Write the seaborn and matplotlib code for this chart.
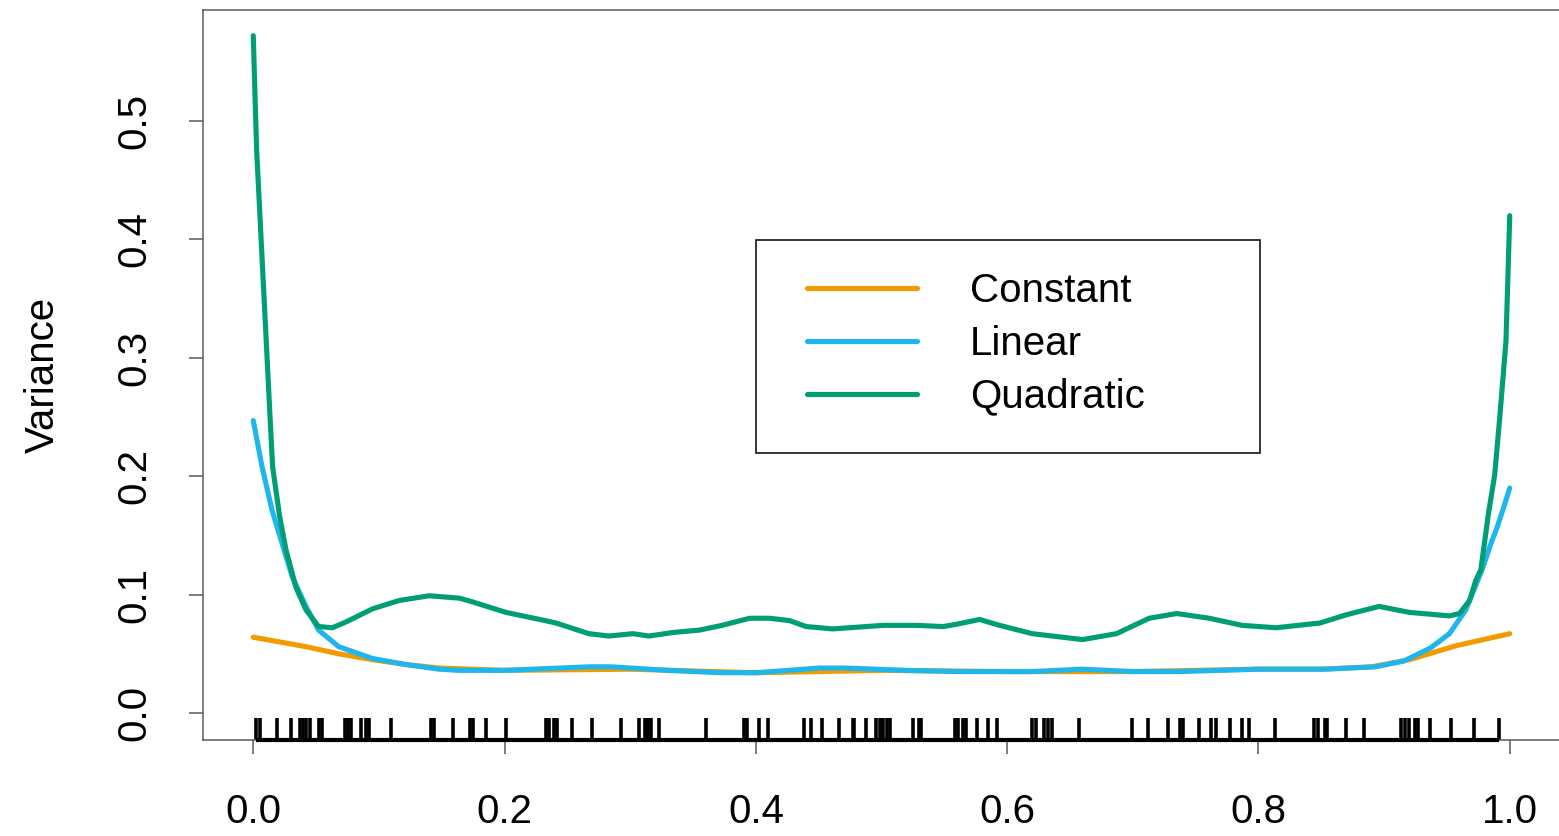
import numpy as np
import pandas as pd
import matplotlib
matplotlib.use("Agg")
import matplotlib.pyplot as plt
import seaborn as sns
from matplotlib.patches import Rectangle

sns.set_theme(style="white")
plt.rcParams["font.family"] = ["Liberation Sans", "DejaVu Sans"]
plt.rcParams["text.color"] = "black"
plt.rcParams["axes.labelcolor"] = "black"

# ---- variance curves -------------------------------------------------------
const_x = [0.0, 0.042, 0.068, 0.095, 0.121, 0.148, 0.2, 0.3, 0.4, 0.5, 0.6,
           0.7, 0.8, 0.85, 0.89, 0.92, 0.958, 1.0]
const_y = [0.064, 0.056, 0.050, 0.045, 0.041, 0.038, 0.036, 0.037, 0.034,
           0.036, 0.035, 0.035, 0.037, 0.037, 0.039, 0.045, 0.057, 0.067]

linear_x = [0.0, 0.007, 0.015, 0.023, 0.031, 0.042, 0.052, 0.068, 0.095,
            0.121, 0.148, 0.164, 0.2, 0.267, 0.285, 0.33, 0.373, 0.40, 0.451,
            0.47, 0.52, 0.56, 0.62, 0.66, 0.70, 0.737, 0.799, 0.853, 0.893,
            0.916, 0.937, 0.952, 0.965, 0.978, 0.985, 0.99, 0.995, 1.0]
linear_y = [0.247, 0.208, 0.171, 0.143, 0.115, 0.090, 0.070, 0.056, 0.046,
            0.041, 0.037, 0.036, 0.036, 0.039, 0.039, 0.036, 0.034, 0.034,
            0.038, 0.038, 0.036, 0.035, 0.035, 0.037, 0.035, 0.035, 0.037,
            0.037, 0.039, 0.044, 0.055, 0.067, 0.087, 0.121, 0.143, 0.157,
            0.173, 0.190]

quad_x = [0.0, 0.0027, 0.0127, 0.0154, 0.021, 0.026, 0.034, 0.042, 0.052,
          0.063, 0.074, 0.095, 0.116, 0.140, 0.164, 0.174, 0.201, 0.228,
          0.241, 0.267, 0.283, 0.302, 0.315, 0.334, 0.355, 0.373, 0.395,
          0.411, 0.427, 0.44, 0.451, 0.461, 0.501, 0.528, 0.549, 0.560,
          0.578, 0.594, 0.620, 0.660, 0.687, 0.713, 0.735, 0.761, 0.787,
          0.814, 0.849, 0.870, 0.896, 0.920, 0.952, 0.960, 0.968, 0.973,
          0.977, 0.983, 0.988, 0.992, 0.997, 1.0]
quad_y = [0.572, 0.475, 0.264, 0.208, 0.166, 0.138, 0.106, 0.087, 0.073,
          0.072, 0.077, 0.088, 0.095, 0.099, 0.097, 0.094, 0.085, 0.079,
          0.076, 0.067, 0.065, 0.067, 0.065, 0.068, 0.070, 0.074, 0.080,
          0.080, 0.078, 0.073, 0.072, 0.071, 0.074, 0.074, 0.073, 0.075,
          0.079, 0.074, 0.067, 0.062, 0.067, 0.080, 0.084, 0.080, 0.074,
          0.072, 0.076, 0.083, 0.090, 0.085, 0.082, 0.084, 0.095, 0.112,
          0.121, 0.168, 0.201, 0.249, 0.314, 0.420]

# observed design points (rug)
design_pts = [0.0025, 0.0050, 0.0186, 0.030, 0.0374, 0.0393, 0.042, 0.0454,
              0.0525, 0.0547, 0.0732, 0.0754, 0.078, 0.0857, 0.0897, 0.0924,
              0.1096, 0.1415, 0.1441, 0.1587, 0.1725, 0.1752, 0.1852, 0.2012,
              0.233, 0.2357, 0.2396, 0.2415, 0.2537, 0.2694, 0.2927, 0.3068,
              0.3118, 0.314, 0.3166, 0.3227, 0.3604, 0.3904, 0.3931, 0.4029,
              0.41, 0.4387, 0.444, 0.4528, 0.466, 0.4772, 0.4785, 0.4873,
              0.4958, 0.4985, 0.5015, 0.504, 0.5065, 0.525, 0.5297, 0.5318,
              0.5581, 0.5608, 0.5648, 0.5674, 0.5762, 0.5846, 0.5918, 0.6199,
              0.6226, 0.6292, 0.6324, 0.6359, 0.6571, 0.6993, 0.712, 0.7279,
              0.7372, 0.7399, 0.7526, 0.7619, 0.7665, 0.7776, 0.7872, 0.7925,
              0.8129, 0.8442, 0.8474, 0.8527, 0.8546, 0.8694, 0.8838, 0.9132,
              0.9164, 0.9196, 0.9244, 0.927, 0.9363, 0.9536, 0.9713, 0.9912]

series_names = ["Constant", "Linear", "Quadratic"]
series_colors = ["#F29A00", "#1FB6EE", "#009E73"]

x_ticks = [0.0, 0.2, 0.4, 0.6, 0.8, 1.0]
x_tick_labels = ["0.0", "0.2", "0.4", "0.6", "0.8", "1.0"]
y_ticks = [0.0, 0.1, 0.2, 0.3, 0.4, 0.5]
y_tick_labels = ["0.0", "0.1", "0.2", "0.3", "0.4", "0.5"]

W, H = 1559, 836
fig = plt.figure(figsize=(W / 100, H / 100), dpi=100)
ax = fig.add_axes([203 / W, 96 / H, 1357 / W, 730 / H])

frame_col = "#5a5a5a"
lw = 3.7
for (xs, ys), name, col in zip([(const_x, const_y), (linear_x, linear_y),
                                (quad_x, quad_y)], series_names, series_colors):
    df = pd.DataFrame({"x": xs, "y": ys})
    sns.lineplot(data=df, x="x", y="y", ax=ax, color=col, linewidth=lw,
                 estimator=None, sort=False, label=name,
                 solid_capstyle="round", solid_joinstyle="round")

sns.rugplot(x=design_pts, ax=ax, height=0.03, color="black", linewidth=2.6,
            expand_margins=False)
ax.hlines(0, min(design_pts), max(design_pts), transform=ax.get_xaxis_transform(),
          color="black", linewidth=3.0, clip_on=False, zorder=5)

ax.set_xlim(-0.04, 1.04)
ax.set_ylim(-0.0228, 0.5937)

ax.set_xticks(x_ticks)
ax.set_xticklabels(x_tick_labels)
ax.set_yticks(y_ticks)
ax.set_yticklabels(y_tick_labels, rotation=90, va="center")
ax.tick_params(axis="both", which="major", bottom=True, left=True,
               direction="out", length=10, width=1.1, color=frame_col,
               labelsize=29, labelcolor="black")
ax.tick_params(axis="x", pad=28)
ax.tick_params(axis="y", pad=26)

ax.set_xlabel("")
ax.set_ylabel("Variance", fontsize=29, labelpad=38, color="black")

for sp in ax.spines.values():
    sp.set_visible(True)
    sp.set_color(frame_col)
    sp.set_linewidth(1.1)

handles, labels = ax.get_legend_handles_labels()
leg = ax.legend(handles, labels, loc="upper left",
                bbox_to_anchor=(807 / W, (H - 272) / H),
                bbox_transform=fig.transFigure, frameon=False, borderpad=0,
                borderaxespad=0, handlelength=2.73, handletextpad=1.31,
                labelspacing=0.37, fontsize=29, labelcolor="black")
fig.add_artist(Rectangle((756 / W, (H - 453) / H), 504 / W, 213 / H,
                         transform=fig.transFigure, fill=False,
                         edgecolor="black", linewidth=1.1))

fig.savefig("out.png", dpi=100)
